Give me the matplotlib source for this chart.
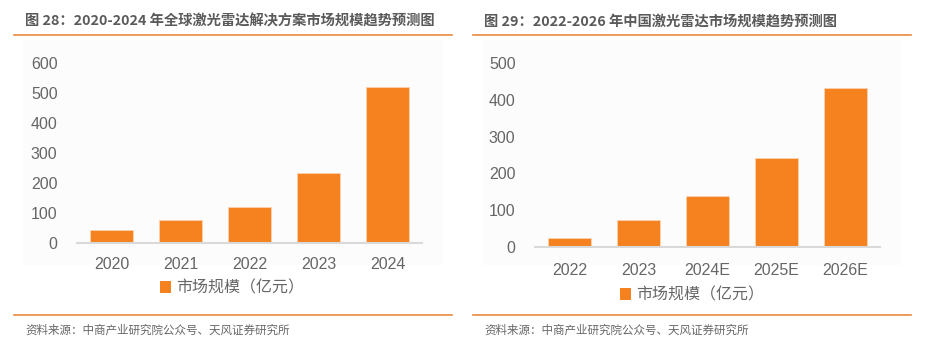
import matplotlib
matplotlib.use('Agg')
from matplotlib import pyplot as plt
from matplotlib.patches import Patch, Rectangle
from matplotlib.lines import Line2D

# data
years_global = ['2020', '2021', '2022', '2023', '2024']
size_global = [44, 78, 121, 233, 522]
years_china = ['2022', '2023', '2024E', '2025E', '2026E']
size_china = [25, 74, 139, 241, 432]

title_global = '图 28：2020-2024 年全球激光雷达解决方案市场规模趋势预测图'
title_china = '图 29：2022-2026 年中国激光雷达市场规模趋势预测图'
series_label = '市场规模（亿元）'
source_text = '资料来源：中商产业研究院公众号、天风证券研究所'

ORANGE = '#F5821F'
LINE_ORANGE = '#EB8A3C'
CJK = ['Noto Sans CJK SC', 'DejaVu Sans']
NUM = ['Liberation Sans', 'Noto Sans CJK SC']

W, H = 927, 351
fig = plt.figure(figsize=(W / 100, H / 100), dpi=100)
fig.patch.set_facecolor('white')


def fx(px):
    return px / W


def fy(py):
    return 1 - py / H


def panel(x0, title, cats, vals, ymax, step, ax_box, tick_y, leg_x, leg_y):
    # faint plot area background
    fig.patches.append(Rectangle((fx(x0 + 9), fy(265)), fx(420), fy(40) - fy(265),
                                 transform=fig.transFigure, facecolor='#fcfcfc',
                                 edgecolor='none', zorder=-5))
    fig.text(fx(x0 + 11), fy(21.5), title, fontsize=10.3, fontweight='bold',
             color='#5a5a5a', family=CJK, va='center', ha='left')
    fig.add_artist(Line2D([fx(x0), fx(x0 + 438)], [fy(35), fy(35)],
                          color=LINE_ORANGE, lw=1.2))
    fig.add_artist(Line2D([fx(x0), fx(x0 + 438)], [fy(315), fy(315)],
                          color=LINE_ORANGE, lw=1.2))
    fig.text(fx(x0 + 11), fy(330), source_text, fontsize=8.3, color='#666666',
             family=CJK, va='center', ha='left')

    l, t, r, b = ax_box
    ax = fig.add_axes([fx(l), fy(b), fx(r - l), fy(t) - fy(b)])
    ax.patch.set_alpha(0)
    ax.bar(range(len(cats)), vals, width=0.62, color=ORANGE,
           edgecolor='#FAD2AE', linewidth=0.6, zorder=3)
    ax.set_xlim(-0.5, len(cats) - 0.5)
    ax.set_ylim(0, ymax)
    ax.set_yticks(range(0, ymax + 1, step))
    ax.set_xticks(range(len(cats)))
    ax.set_xticklabels(cats)
    for s in ax.spines.values():
        s.set_visible(False)
    ax.axhline(0, color='#D9D9D9', lw=1.5, zorder=4, clip_on=False)
    ax.tick_params(length=0, labelsize=11.5, colors='#666666', pad=tick_y)
    ax.tick_params(axis='y', pad=14)
    for lab in ax.get_xticklabels() + ax.get_yticklabels():
        lab.set_family(NUM)
    leg = fig.legend([Patch(facecolor=ORANGE)], [series_label], loc='center',
                     bbox_to_anchor=(fx(leg_x), fy(leg_y)), frameon=False,
                     handlelength=0.7, handleheight=0.7, handletextpad=0.3,
                     prop={'family': CJK, 'size': 11.5})
    for txt in leg.get_texts():
        txt.set_color('#666666')
    return ax


panel(14, title_global, years_global, size_global, 600, 100,
      (77, 63.3, 422, 243.3), 10, 232, 288)
panel(473, title_china, years_china, size_china, 500, 100,
      (535, 63.3, 880, 246.7), 12, 692, 295)

fig.savefig('out.png', dpi=100, facecolor='white')
